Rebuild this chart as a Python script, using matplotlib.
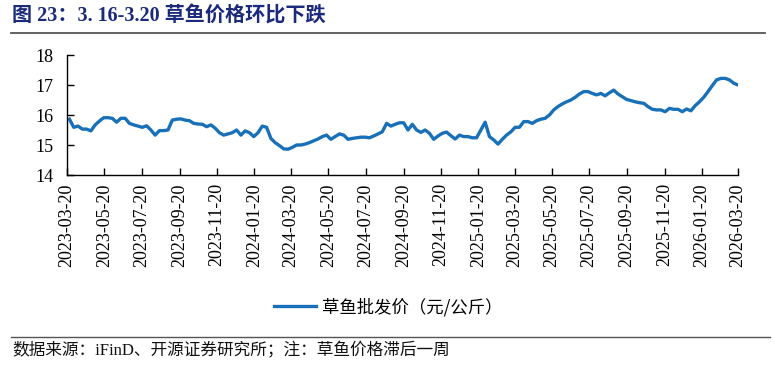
import matplotlib
matplotlib.use("Agg")
import matplotlib.pyplot as plt
import matplotlib.dates as mdates
import pandas as pd
from matplotlib.lines import Line2D

plt.rcParams['font.family'] = ['Liberation Serif', 'Noto Sans CJK SC', 'DejaVu Sans']

title_text = "图 23：3. 16-3.20 草鱼价格环比下跌"
series_name = "草鱼批发价（元/公斤）"
footer_text = "数据来源：iFinD、开源证券研究所；注：草鱼价格滞后一周"

prices = [
    15.86, 15.59, 15.63, 15.53, 15.53, 15.47, 15.67, 15.80, 15.91,
    15.91, 15.89, 15.76, 15.89, 15.89, 15.72, 15.67, 15.63, 15.59, 15.64,
    15.50, 15.33, 15.48, 15.48, 15.50, 15.83, 15.86, 15.87, 15.83, 15.81,
    15.72, 15.70, 15.69, 15.61, 15.67, 15.56, 15.41, 15.33, 15.37, 15.41,
    15.50, 15.33, 15.47, 15.41, 15.28, 15.41, 15.63, 15.59, 15.22, 15.08,
    14.98, 14.87, 14.86, 14.92, 15.00, 15.00, 15.03, 15.08, 15.14, 15.20,
    15.28, 15.33, 15.19, 15.28, 15.37, 15.33, 15.19, 15.22, 15.24, 15.26,
    15.26, 15.24, 15.30, 15.37, 15.44, 15.72, 15.63, 15.69, 15.74,
    15.74, 15.50, 15.69, 15.50, 15.42, 15.50, 15.39, 15.19, 15.30, 15.39,
    15.43, 15.31, 15.20, 15.33, 15.28, 15.28, 15.24, 15.24, 15.50, 15.76,
    15.28, 15.17, 15.03, 15.19, 15.33, 15.44, 15.59, 15.59, 15.78, 15.78,
    15.72, 15.81, 15.86, 15.89, 16.00, 16.17, 16.28, 16.37, 16.44, 16.50,
    16.59, 16.70, 16.78, 16.78, 16.72, 16.67, 16.72, 16.64, 16.74, 16.83,
    16.70, 16.61, 16.52, 16.48, 16.44, 16.41, 16.39, 16.28, 16.19, 16.17,
    16.17, 16.11, 16.22, 16.19, 16.19, 16.11, 16.20, 16.14, 16.31, 16.44,
    16.59, 16.78, 16.98, 17.17, 17.22, 17.22, 17.17, 17.06, 17.00,
]
dates = pd.date_range(end="2026-03-20", periods=len(prices), freq="7D")

tick_labels = ["2023-03-20", "2023-05-20", "2023-07-20", "2023-09-20", "2023-11-20",
               "2024-01-20", "2024-03-20", "2024-05-20", "2024-07-20", "2024-09-20",
               "2024-11-20", "2025-01-20", "2025-03-20", "2025-05-20", "2025-07-20",
               "2025-09-20", "2025-11-20", "2026-01-20", "2026-03-20"]
y_ticks = [14, 15, 16, 17, 18]

W, H = 775, 377
fig = plt.figure(figsize=(W / 100, H / 100), dpi=100)
fig.patch.set_facecolor("white")

ax = fig.add_axes([67 / W, 1 - 175 / H, (738 - 67) / W, 120 / H])
line_color = "#1870B8"
ax.plot(dates, prices, color=line_color, lw=2.4, solid_joinstyle="round")

tick_dates = pd.to_datetime(tick_labels)
ax.set_xlim(tick_dates[0], tick_dates[-1])
ax.set_xticks(tick_dates)
ax.set_xticklabels(tick_labels, rotation=90, fontsize=13, family="Liberation Serif")
ax.set_ylim(14, 18)
ax.set_yticks(y_ticks)
ax.set_yticklabels([str(v) for v in y_ticks], fontsize=13, family="Liberation Serif")
ax.tick_params(axis="x", direction="in", length=5, width=1, pad=6)
ax.tick_params(axis="y", direction="in", length=5, width=1, pad=10)
for s in ["top", "right"]:
    ax.spines[s].set_visible(False)
for s in ["left", "bottom"]:
    ax.spines[s].set_linewidth(1)
    ax.spines[s].set_color("black")

handle = Line2D([], [], color=line_color, lw=2.4)
fig.legend([handle], [series_name], loc="center", bbox_to_anchor=(388 / W, 1 - 307 / H),
           frameon=False, handlelength=2.4, handletextpad=0.35,
           prop={"family": ["Noto Sans CJK SC"], "size": 12.5})

fig.text(12 / W, 1 - 17 / H, title_text, fontsize=14.5, fontweight="bold",
         color="#1B2A7B", ha="left", va="center",
         family=["Liberation Serif", "Noto Sans CJK SC"])
fig.add_artist(Line2D([11 / W, 765 / W], [1 - 33 / H, 1 - 33 / H], color="#555555", lw=1.3))
fig.add_artist(Line2D([11 / W, 770 / W], [1 - 337 / H, 1 - 337 / H], color="#555555", lw=1.0))
fig.text(12 / W, 1 - 351 / H, footer_text, fontsize=12, ha="left", va="center",
         family=["Liberation Serif", "Noto Sans CJK SC"], color="#111111")

fig.savefig("out.png", dpi=100)
